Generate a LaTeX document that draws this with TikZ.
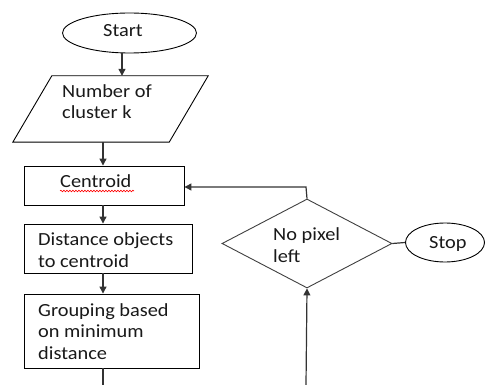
\documentclass[tikz,border=0pt]{standalone}
\usepackage{fontspec}
\setmainfont{Carlito}[FakeStretch=1.1]
\usetikzlibrary{shapes.geometric,arrows.meta,decorations.pathmorphing}
\begin{document}
\begin{tikzpicture}[x=1pt,y=-1pt,
  box/.style={draw=black, line width=0.9pt, inner sep=0pt},
  lbl/.style={anchor=base west, inner sep=0pt, align=left, font=\fontsize{18.5}{21.5}\selectfont, text=black!90},
  arr/.style={draw=black!80, line width=1.2pt, -{Triangle[length=7pt,width=7pt]}},
  ln/.style={draw=black!80, line width=1.2pt}]
\useasboundingbox (0,0) rectangle (485,385);
\fill[white] (0,0) rectangle (485,385);
% shapes
\node[box, ellipse, minimum width=134pt, minimum height=40pt] (start) at (129.5,33) {};
\node[inner sep=0pt, minimum width=195pt, minimum height=66pt] (param) at (110.5,109) {};
\draw[box] ([xshift=39pt]param.north west) -- (param.north east) -- ([xshift=-39pt]param.south east) -- (param.south west) -- cycle;
\node[box, minimum width=160pt, minimum height=39pt] (centroid) at (104,185.5) {};
\node[box, minimum width=168pt, minimum height=49pt] (distance) at (108,248.5) {};
\node[box, minimum width=175pt, minimum height=74pt] (grouping) at (111.5,331) {};
\node[box, diamond, draw=black!75, minimum width=170pt, minimum height=89pt] (decide) at (307,243.5) {};
\node[box, ellipse, minimum width=79pt, minimum height=39pt] (stop) at (445,242.5) {};
% texts (base anchor = baseline of last line)
\node[lbl] (tstart) at (103,37) {Start};
\node[lbl] (tparam) at (62,119) {Number of\\cluster k};
\node[lbl] (tcentroid) at (60,188) {Centroid};
\node[lbl] (tdistance) at (38,267) {Distance objects\\to centroid};
\node[lbl] (tgrouping) at (38,359) {Grouping based\\on minimum\\distance};
\node[lbl] (tdecide) at (273,262) {No pixel\\left};
\node[lbl] (tstop) at (429,248) {Stop};
\draw[red, line width=0.6pt, decorate, decoration={snake, amplitude=0.8pt, segment length=3pt}] (60,191) -- (134,191);
% connectors
\coordinate (colA) at (103,0);
\coordinate (colB) at (122,0);
\coordinate (bot) at (103,385);
\coordinate (bot2) at (306,385);
\coordinate (turn) at (306,187);
\draw[arr] (start.south -| colB) -- (param.north -| colB);
\draw[arr] (param.south -| colA) -- (centroid.north -| colA);
\draw[arr] (centroid.south -| colA) -- (distance.north -| colA);
\draw[arr] (distance.south -| colA) -- (grouping.north -| colA);
\draw[ln] (grouping.south -| colA) -- (bot);
\draw[arr] (bot2) -- (decide.south);
\draw[arr] (decide.north) -- (turn) -- (turn -| centroid.east);
\draw[ln] (decide.east) -- (stop.west);
\end{tikzpicture}
\end{document}
